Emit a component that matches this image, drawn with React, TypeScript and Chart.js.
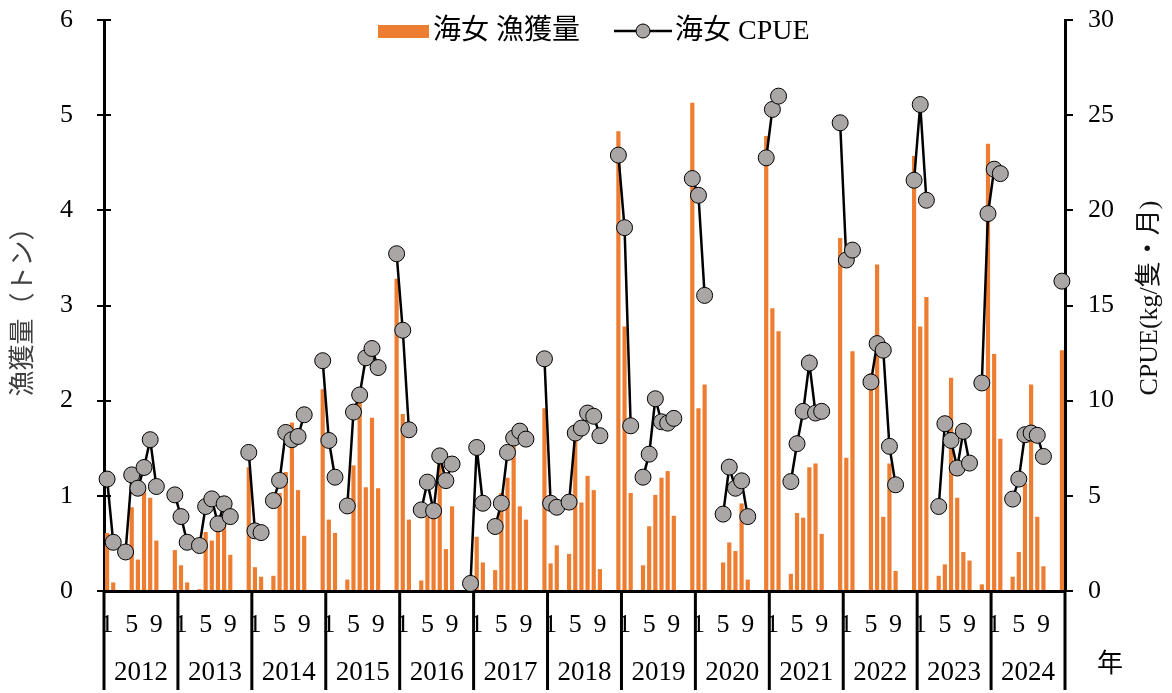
import React, { useEffect, useRef } from 'react';
import Chart from 'chart.js/auto';

const FONT = "'Liberation Serif', 'Noto Sans CJK JP', serif";

const years = ['2012', '2013', '2014', '2015', '2016', '2017', '2018', '2019', '2020', '2021', '2022', '2023', '2024'];
const monthTicks = ['1', '', '', '', '5', '', '', '', '9', '', '', ''];

// 海女 漁獲量 (トン), Jan..Dec for each year
const catchTons: (number | null)[] = [
  0.61, 0.09, null, null, 0.88, 0.33, 1.07, 0.98, 0.53, null, null, 0.43, // 2012
  0.27, 0.09, null, 0.02, 0.62, 0.53, 0.62, 0.72, 0.38, null, null, 1.30, // 2013
  0.25, 0.15, null, 0.16, 1.03, 1.25, 1.77, 1.06, 0.58, null, null, 2.12, // 2014
  0.75, 0.61, null, 0.12, 1.32, 2.00, 1.09, 1.82, 1.08, null, null, 3.28, // 2015
  1.86, 0.75, null, 0.11, 0.78, 0.80, 1.34, 0.44, 0.89, null, null, 0.01, // 2016
  0.57, 0.30, null, 0.22, 1.03, 1.19, 1.58, 0.89, 0.75, null, null, 1.92, // 2017
  0.29, 0.48, null, 0.39, 1.64, 0.93, 1.21, 1.06, 0.23, null, null, 4.83, // 2018
  2.78, 1.03, null, 0.27, 0.68, 1.01, 1.19, 1.26, 0.79, null, null, 5.13, // 2019
  1.92, 2.17, null, null, 0.30, 0.51, 0.42, 0.92, 0.12, null, null, 4.78, // 2020
  2.97, 2.73, null, 0.18, 0.82, 0.77, 1.30, 1.34, 0.60, null, null, 3.71, // 2021
  1.40, 2.52, null, null, 2.29, 3.43, 0.78, 1.34, 0.21, null, null, 4.57, // 2022
  2.78, 3.09, null, 0.16, 0.28, 2.24, 0.98, 0.41, 0.32, null, 0.07, 4.70, // 2023
  2.49, 1.60, null, 0.15, 0.41, 1.13, 2.17, 0.78, 0.26, null, null, 2.53, // 2024
];

// 海女 CPUE (kg/隻・月), Jan..Dec for each year
const cpue: (number | null)[] = [
  5.88, 2.56, null, 2.05, 6.10, 5.40, 6.49, 7.95, 5.49, null, null, 5.05, // 2012
  3.91, 2.56, null, 2.39, 4.44, 4.84, 3.53, 4.58, 3.91, null, null, 7.28, // 2013
  3.16, 3.07, null, 4.75, 5.81, 8.33, 7.95, 8.12, 9.26, null, null, 12.10, // 2014
  7.91, 5.98, null, 4.47, 9.40, 10.30, 12.25, 12.74, 11.74, null, null, 17.72, // 2015
  13.70, 8.47, null, 4.26, 5.72, 4.21, 7.10, 5.80, 6.67, null, null, 0.40, // 2016
  7.54, 4.61, null, 3.39, 4.61, 7.28, 8.04, 8.40, 7.98, null, null, 12.20, // 2017
  4.61, 4.40, null, 4.67, 8.30, 8.56, 9.35, 9.18, 8.16, null, null, 22.90, // 2018
  19.09, 8.68, null, 5.98, 7.19, 10.10, 8.89, 8.82, 9.07, null, null, 21.67, // 2019
  20.79, 15.53, null, null, 4.04, 6.51, 5.40, 5.79, 3.91, null, null, 22.76, // 2020
  25.30, 26.00, null, 5.75, 7.74, 9.44, 11.98, 9.35, 9.44, null, null, 24.60, // 2021
  17.39, 17.91, null, null, 10.98, 13.00, 12.65, 7.60, 5.58, null, null, 21.58, // 2022
  25.56, 20.53, null, 4.44, 8.79, 7.91, 6.46, 8.39, 6.72, null, 10.93, 19.83, // 2023
  22.16, 21.93, null, 4.83, 5.88, 8.21, 8.30, 8.18, 7.07, null, null, 16.28, // 2024
];

const legendLabels = ['海女 漁獲量', '海女 CPUE'];
const leftTitle = '漁獲量（トン）';
const rightTitle = 'CPUE(kg/隻・月)';
const xUnit = '年';

const BAR_COLOR = '#ED7D31';
const MARKER_COLOR = '#AAA6A6';

export default function App() {
  const ref = useRef<HTMLCanvasElement>(null);

  useEffect(() => {
    document.body.style.margin = '0';
    const labels = years.flatMap((y) => monthTicks.map((_, m) => `${y}/${m + 1}`));

    const overlay = {
      id: 'overlay',
      afterDraw(chart: any) {
        const { ctx, chartArea: a, scales } = chart;
        const xs = scales.x;
        const ys = scales.y;
        ctx.save();
        // inward half of left axis ticks
        ctx.strokeStyle = '#000';
        ctx.lineWidth = 2;
        ys.ticks.forEach((_: any, i: number) => {
          const py = Math.round(ys.getPixelForTick(i));
          ctx.beginPath();
          ctx.moveTo(a.left, py);
          ctx.lineTo(a.left + 7, py);
          ctx.stroke();
        });
        // year separators
        const w = xs.getPixelForValue(1) - xs.getPixelForValue(0);
        ctx.lineWidth = 3;
        for (let k = 0; k <= years.length; k++) {
          const px = xs.getPixelForValue(k * 12) - w / 2;
          ctx.beginPath();
          ctx.moveTo(px, a.bottom);
          ctx.lineTo(px, 690);
          ctx.stroke();
        }
        // year labels
        ctx.fillStyle = '#000';
        ctx.font = `27px ${FONT}`;
        ctx.textAlign = 'center';
        ctx.textBaseline = 'middle';
        years.forEach((yr, k) => ctx.fillText(yr, xs.getPixelForValue(k * 12 + 5.5), 673));
        ctx.font = `26px ${FONT}`;
        ctx.fillText(xUnit, 1110, 665);
        // right axis title (rotated bottom-to-top)
        ctx.save();
        ctx.translate(1150, 298);
        ctx.rotate(-Math.PI / 2);
        ctx.fillStyle = '#111';
        ctx.font = `26px ${FONT}`;
        ctx.fillText(rightTitle, 0, 0);
        ctx.restore();
        // legend
        ctx.fillStyle = BAR_COLOR;
        ctx.fillRect(378, 25, 51, 13);
        ctx.fillStyle = '#000';
        ctx.font = `28px ${FONT}`;
        ctx.textAlign = 'left';
        ctx.fillText(legendLabels[0], 433, 32);
        ctx.strokeStyle = '#000';
        ctx.lineWidth = 2.5;
        ctx.beginPath();
        ctx.moveTo(614, 31);
        ctx.lineTo(672, 31);
        ctx.stroke();
        ctx.beginPath();
        ctx.arc(643, 31, 7, 0, Math.PI * 2);
        ctx.fillStyle = MARKER_COLOR;
        ctx.fill();
        ctx.lineWidth = 1;
        ctx.stroke();
        ctx.fillStyle = '#000';
        ctx.fillText(legendLabels[1], 675, 32);
        ctx.restore();
      },
    };

    const chart = new Chart(ref.current as HTMLCanvasElement, {
      type: 'bar',
      data: {
        labels,
        datasets: [
          {
            type: 'line',
            label: legendLabels[1],
            data: cpue,
            yAxisID: 'y1',
            order: 0,
            borderColor: '#000',
            borderWidth: 2.5,
            pointRadius: 8,
            pointBackgroundColor: MARKER_COLOR,
            pointBorderColor: '#000',
            pointBorderWidth: 1,
            spanGaps: false,
            tension: 0,
          } as any,
          {
            type: 'bar',
            label: legendLabels[0],
            data: catchTons,
            yAxisID: 'y',
            order: 1,
            backgroundColor: BAR_COLOR,
            barPercentage: 0.68,
            categoryPercentage: 1,
          } as any,
        ],
      },
      options: {
        responsive: false,
        devicePixelRatio: 1,
        animation: false,
        layout: { padding: { top: 20, left: 0, right: 0, bottom: 0 } },
        plugins: { legend: { display: false }, tooltip: { enabled: false } },
        scales: {
          x: {
            type: 'category',
            offset: true,
            grid: { display: false, drawTicks: false },
            border: { display: true, color: '#000', width: 3 },
            ticks: {
              autoSkip: false,
              maxRotation: 0,
              minRotation: 0,
              padding: 19,
              color: '#000',
              font: { family: FONT, size: 26 },
              callback: (_v: any, i: number) => monthTicks[i % 12],
            },
            afterFit: (s: any) => {
              s.height = 102;
              s.paddingLeft = 0;
              s.paddingRight = 0;
            },
          },
          y: {
            position: 'left',
            min: 0,
            max: 6,
            ticks: { stepSize: 1, padding: 24, color: '#000', font: { family: FONT, size: 26 } },
            grid: { drawOnChartArea: false, drawTicks: true, tickLength: 7, color: '#000', lineWidth: 2 },
            border: { color: '#000', width: 3 },
            title: {
              display: true,
              text: leftTitle,
              color: '#404040',
              font: { family: FONT, size: 26 },
              padding: { top: 9, bottom: 0 },
            },
            afterFit: (s: any) => {
              s.width = 104;
              s.paddingTop = 0;
              s.paddingBottom = 0;
            },
          },
          y1: {
            position: 'right',
            min: 0,
            max: 30,
            ticks: { stepSize: 5, padding: 15, color: '#000', font: { family: FONT, size: 26 } },
            grid: { drawOnChartArea: false, drawTicks: true, tickLength: 8, color: '#000', lineWidth: 2 },
            border: { color: '#000', width: 3 },
            afterFit: (s: any) => {
              s.width = 107;
              s.paddingTop = 0;
              s.paddingBottom = 0;
            },
          },
        },
      } as any,
      plugins: [overlay],
    });
    return () => chart.destroy();
  }, []);

  return <canvas ref={ref} width={1172} height={693} style={{ display: 'block' }} />;
}
